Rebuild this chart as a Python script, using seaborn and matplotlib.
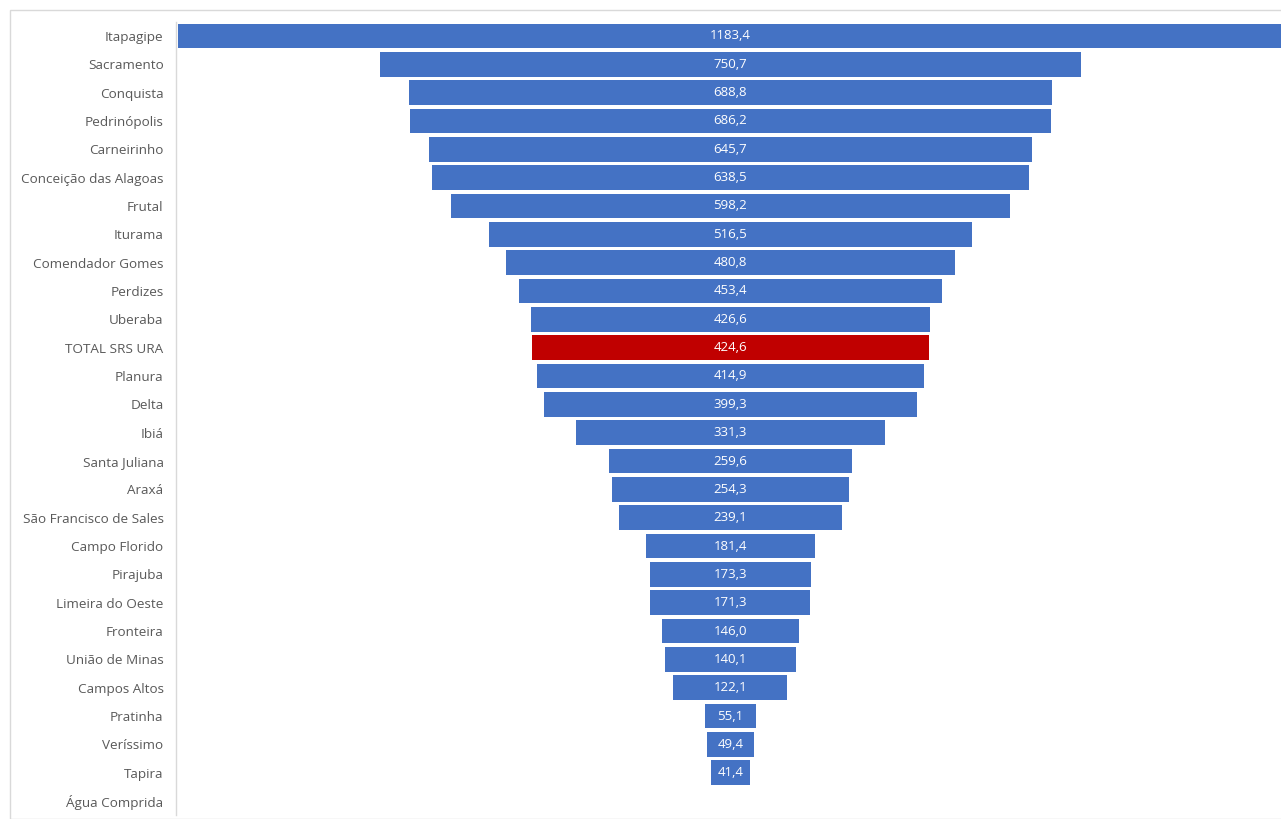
import matplotlib
matplotlib.use("Agg")
import matplotlib.pyplot as plt
import seaborn as sns
import pandas as pd
from matplotlib.patches import Rectangle

municipios = [
    "Itapagipe", "Sacramento", "Conquista", "Pedrinópolis", "Carneirinho",
    "Conceição das Alagoas", "Frutal", "Iturama", "Comendador Gomes", "Perdizes",
    "Uberaba", "TOTAL SRS URA", "Planura", "Delta", "Ibiá", "Santa Juliana",
    "Araxá", "São Francisco de Sales", "Campo Florido", "Pirajuba",
    "Limeira do Oeste", "Fronteira", "União de Minas", "Campos Altos",
    "Pratinha", "Veríssimo", "Tapira", "Água Comprida",
]
taxas = [
    1183.4, 750.7, 688.8, 686.2, 645.7, 638.5, 598.2, 516.5, 480.8, 453.4,
    426.6, 424.6, 414.9, 399.3, 331.3, 259.6, 254.3, 239.1, 181.4, 173.3,
    171.3, 146.0, 140.1, 122.1, 55.1, 49.4, 41.4, 0.0,
]
destaque = "TOTAL SRS URA"

AZUL = "#4472C4"
VERMELHO = "#C00000"

sns.set_theme(style="white")
plt.rcParams["font.family"] = ["Open Sans", "DejaVu Sans"]

df = pd.DataFrame({"municipio": municipios, "taxa": taxas})
df["metade"] = df["taxa"] / 2
cores = {m: (VERMELHO if m == destaque else AZUL) for m in municipios}

fig = plt.figure(figsize=(12.81, 8.19), dpi=100)
fig.patches.append(Rectangle((10 / 1281, 0), 1.0, 1 - 10 / 819,
                             transform=fig.transFigure, fill=False,
                             edgecolor="#D9D9D9", linewidth=1.0, zorder=0))
ax = fig.add_axes([176 / 1281, 1 - 815.2 / 819, 1 - 176 / 1281, (815.2 - 21.8) / 819])

# funnel: each bar is drawn as two mirrored halves around zero
for sinal in (1, -1):
    sns.barplot(data=df.assign(x=sinal * df["metade"]), x="x", y="municipio",
                hue="municipio", palette=cores, legend=False, orient="h",
                width=0.88, saturation=1, linewidth=0, ax=ax)

for i, v in enumerate(taxas):
    if v > 0:
        ax.text(0, i, f"{v:.1f}".replace(".", ","), ha="center", va="center",
                color="white", fontsize=9.5)

ax.set_xlim(-593.6, 589.4)
ax.set_ylim(len(municipios) - 0.5, -0.5)
ax.set_xlabel("")
ax.set_ylabel("")
ax.set_xticks([])
ax.tick_params(axis="y", length=0, pad=9, labelsize=9.7, labelcolor="#595959")
for lado in ("top", "right", "bottom"):
    ax.spines[lado].set_visible(False)
ax.spines["left"].set_color("#D9D9D9")
ax.spines["left"].set_linewidth(1.0)

fig.savefig("out.png", dpi=100)
